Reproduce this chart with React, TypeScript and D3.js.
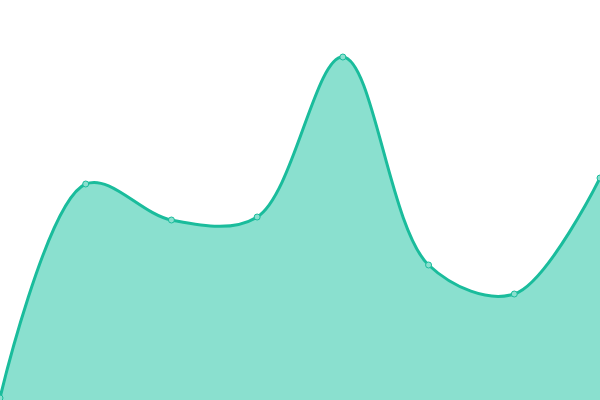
import React, { useEffect, useRef } from "react";
import * as d3 from "d3";

const categories = ["1", "2", "3", "4", "5", "6", "7", "8"];
const values = [2, 216, 180, 183, 343, 135, 106, 222];

const width = 600;
const height = 400;

const App = () => {
  const ref = useRef<SVGSVGElement>(null);

  useEffect(() => {
    const svg = d3.select(ref.current);
    svg.selectAll("*").remove();

    const data = categories.map((c, i) => ({ c, v: values[i] }));

    const x = d3.scalePoint<string>().domain(categories).range([0, width]);
    const y = d3.scaleLinear().domain([0, 400]).range([height, 0]);

    const area = d3
      .area<{ c: string; v: number }>()
      .curve(d3.curveCatmullRom.alpha(0.5))
      .x((d) => x(d.c) as number)
      .y0(y(0))
      .y1((d) => y(d.v));

    const line = d3
      .line<{ c: string; v: number }>()
      .curve(d3.curveCatmullRom.alpha(0.5))
      .x((d) => x(d.c) as number)
      .y((d) => y(d.v));

    svg.append("path").datum(data).attr("fill", "#8ae0cf").attr("d", area);

    svg
      .append("path")
      .datum(data)
      .attr("fill", "none")
      .attr("stroke", "#1abc9c")
      .attr("stroke-width", 3)
      .attr("d", line);

    svg
      .selectAll("circle")
      .data(data)
      .enter()
      .append("circle")
      .attr("cx", (d) => x(d.c) as number)
      .attr("cy", (d) => y(d.v))
      .attr("r", 3)
      .attr("fill", "#8ae0cf")
      .attr("stroke", "#1abc9c")
      .attr("stroke-width", 1);
  });

  return (
    <svg
      ref={ref}
      width={width}
      height={height}
      style={{ position: "absolute", left: 0, top: 0, background: "#fff" }}
    />
  );
};

export default App;
